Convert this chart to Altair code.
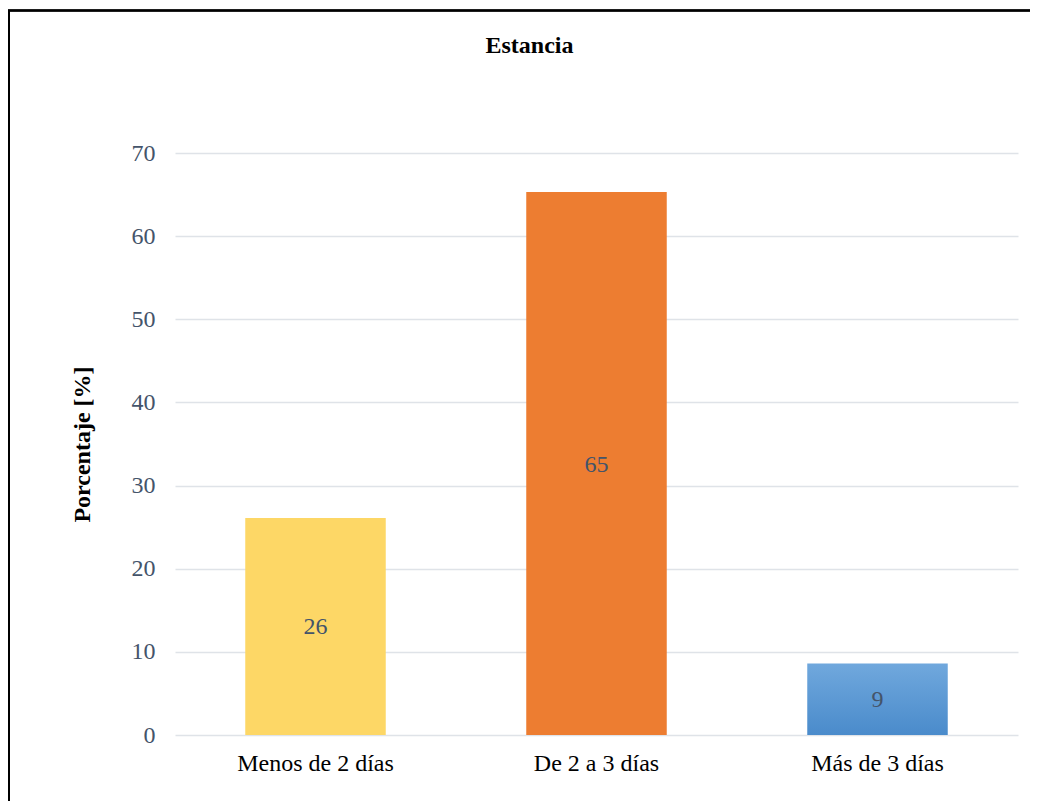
import altair as alt
import pandas as pd

categories = ["Menos de 2 días", "De 2 a 3 días", "Más de 3 días"]
values = [26.1, 65.3, 8.6]
bar_colors = ["#FDD766", "#ED7D31", "#5B9BD5"]

df = pd.DataFrame({"cat": categories, "val": values, "col": bar_colors})

FONT = "Liberation Serif"

x_enc = alt.X(
    "cat:N",
    sort=categories,
    scale=alt.Scale(paddingInner=0.5, paddingOuter=0.25),
    axis=alt.Axis(
        title=None, labelAngle=0, ticks=False, domain=False, labelPadding=16,
        labelFont=FONT, labelFontSize=24, labelColor="#000000", grid=False,
    ),
)
y_enc = alt.Y(
    "val:Q",
    scale=alt.Scale(domain=[0, 70], nice=False),
    axis=alt.Axis(
        title="Porcentaje [%]", values=[0, 10, 20, 30, 40, 50, 60, 70],
        ticks=False, tickSize=0, domain=False, labelPadding=20,
        labelFont=FONT, labelFontSize=24, labelColor="#44546A",
        titleFont=FONT, titleFontSize=24, titleFontWeight="bold",
        titleColor="#000000", titlePadding=37,
        grid=True, gridColor="#DFE3E8", gridWidth=1.5,
    ),
)

base = alt.Chart(df)

frame = base.mark_rect(
    fillOpacity=0, stroke="#000000", strokeWidth=2, clip=False
).encode(
    x=alt.value(-166), x2=alt.value(900), y=alt.value(-142.5), y2=alt.value(700)
)

bars = base.transform_filter(
    alt.datum.cat != categories[2]
).mark_bar().encode(
    x=x_enc, y=y_enc,
    color=alt.Color("col:N", scale=None),
)

grad = alt.Gradient(
    gradient="linear",
    stops=[alt.GradientStop(color="#70A8DD", offset=0),
           alt.GradientStop(color="#4A8BCB", offset=1)],
    x1=0, x2=0, y1=0, y2=1,
)
gbar = base.transform_filter(
    alt.datum.cat == categories[2]
).mark_bar(color=grad).encode(x=x_enc, y=y_enc)

labels = base.transform_calculate(
    mid="datum.val / 2"
).mark_text(
    font=FONT, fontSize=24, color="#44546A", baseline="middle", align="center", dy=1
).encode(
    x=alt.X("cat:N", sort=categories),
    y=alt.Y("mid:Q"),
    text=alt.Text("val:Q", format=".0f"),
)

chart = alt.layer(frame, bars, gbar, labels).properties(
    width=843,
    height=582,
    autosize="none",
    padding={"left": 167, "top": 145, "right": 12, "bottom": 66},
    title=alt.TitleParams(
        "Estancia", font=FONT, fontSize=24, fontWeight="bold", color="#000000",
        anchor="middle", dx=-67, offset=-48,
    ),
).configure_view(stroke=None)

chart.save("out.html", embed_options={"renderer": "svg", "actions": False})
